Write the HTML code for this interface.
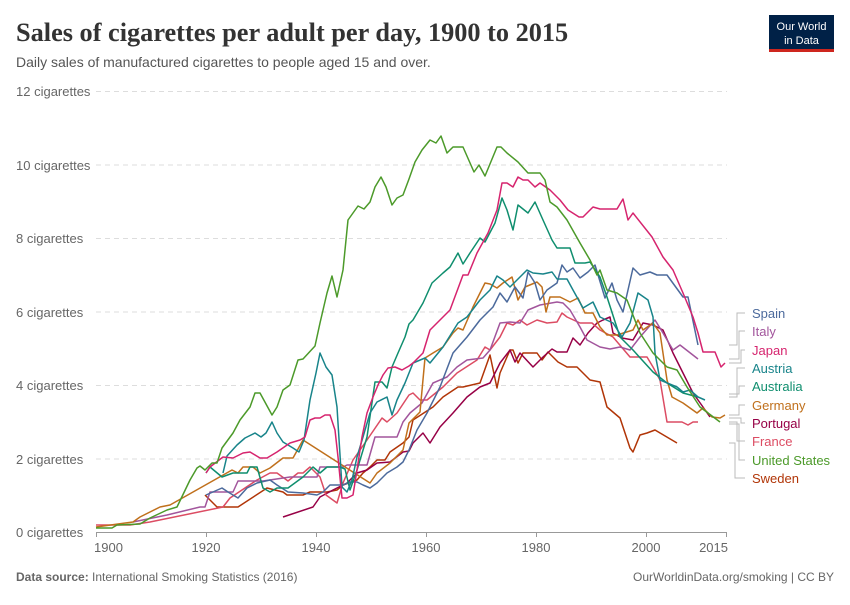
<!DOCTYPE html>
<html><head><meta charset="utf-8"><style>
body{margin:0;background:#fff;width:850px;height:600px;overflow:hidden;font-family:"Liberation Sans",sans-serif;}
</style></head><body>
<svg width="850" height="600" xmlns="http://www.w3.org/2000/svg" font-family="Liberation Sans, sans-serif">
<text x="16" y="41" font-family="Liberation Serif, serif" font-weight="bold" font-size="26.3" fill="#333">Sales of cigarettes per adult per day, 1900 to 2015</text>
<text x="16" y="67" font-size="14" fill="#555">Daily sales of manufactured cigarettes to people aged 15 and over.</text>
<rect x="769" y="15" width="65" height="36" fill="#002147"/><rect x="769" y="49" width="65" height="3" fill="#ce261e"/>
<text x="801.5" y="30" font-size="11" fill="#fff" text-anchor="middle">Our World</text>
<text x="801.5" y="44" font-size="11" fill="#fff" text-anchor="middle">in Data</text>
<g stroke="#ddd" stroke-dasharray="5,4" stroke-width="1">
<line x1="96" x2="727" y1="91.5" y2="91.5"/><line x1="96" x2="727" y1="165" y2="165"/><line x1="96" x2="727" y1="238.5" y2="238.5"/><line x1="96" x2="727" y1="312" y2="312"/><line x1="96" x2="727" y1="385.5" y2="385.5"/><line x1="96" x2="727" y1="459" y2="459"/>
</g>
<g font-size="13" fill="#666">
<text x="16" y="96">12 cigarettes</text><text x="16" y="170">10 cigarettes</text><text x="16" y="243">8 cigarettes</text><text x="16" y="317">6 cigarettes</text><text x="16" y="390">4 cigarettes</text><text x="16" y="464">2 cigarettes</text><text x="16" y="537">0 cigarettes</text>
<text x="94" y="552">1900</text><text x="206" y="552" text-anchor="middle">1920</text><text x="316" y="552" text-anchor="middle">1940</text><text x="426" y="552" text-anchor="middle">1960</text><text x="536" y="552" text-anchor="middle">1980</text><text x="646" y="552" text-anchor="middle">2000</text><text x="728" y="552" text-anchor="end">2015</text>
</g>
<g stroke="#999" stroke-width="1"><line x1="96" x2="727" y1="532.5" y2="532.5"/>
<line x1="96.5" x2="96.5" y1="532" y2="537"/><line x1="206.5" x2="206.5" y1="532" y2="537"/><line x1="316.5" x2="316.5" y1="532" y2="537"/><line x1="426.5" x2="426.5" y1="532" y2="537"/><line x1="536.5" x2="536.5" y1="532" y2="537"/><line x1="646.5" x2="646.5" y1="532" y2="537"/><line x1="726.5" x2="726.5" y1="532" y2="537"/></g>
<g fill="none" stroke-width="1.5" stroke-linejoin="round">
<polyline stroke="#B13507" points="205,495 217,507 238,507 267,488 283,492 287,495 303,495 310,492 327,492 337,490 343,485 357,480 363,473 370,467 377,460 385,460 390,452 403,443 409,437 413,420 433,407 443,397 458,387 463,387 480,383 490,355 497,388 500,373 510,350 513,350 518,363 523,353 537,353 542,360 548,352 558,362 567,367 577,367 590,380 600,382 607,407 620,418 630,448 633,452 640,435 647,433 655,430 677,443"/>
<polyline stroke="#970046" points="283,517 313,507 320,497 333,490 347,483 357,473 367,470 377,463 390,462 403,452 409,451 413,443 423,433 430,443 440,427 453,413 467,397 480,387 490,383 500,363 510,350 515,362 520,353 533,367 543,357 552,349 557,352 567,352 573,338 580,345 588,333 597,323 603,320 610,317 613,333 622,338 633,340 643,323 653,325 663,330 673,353 683,373 693,393 703,407 710,417"/>
<polyline stroke="#DC4C63" points="96,525 130,525 150,522 223,507 230,498 257,480 270,473 277,473 288,481 298,473 303,473 310,467 320,477 326,495 337,503 343,483 353,460 367,440 382,418 387,422 397,413 409,395 413,393 420,400 427,400 443,387 457,373 477,360 485,347 490,350 500,337 507,323 513,325 520,320 527,325 537,320 547,323 557,322 562,313 567,317 580,323 592,323 600,330 613,337 630,357 647,357 653,367 660,380 667,422 682,422 688,425 693,422 698,422"/>
<polyline stroke="#A2559C" points="133,522 167,515 200,507 205,507 210,492 233,492 238,481 263,481 290,477 317,477 320,467 343,467 347,465 367,465 375,437 397,437 403,422 410,413 422,403 433,383 447,377 457,367 467,360 483,358 490,350 500,323 510,322 520,323 528,310 540,305 557,302 563,303 570,310 580,327 587,340 600,347 610,349 620,347 630,350 640,337 655,320 663,333 673,350 680,345 698,359"/>
<polyline stroke="#C0701C" points="96,527 133,522 140,517 160,507 170,505 232,470 238,473 243,467 253,467 260,473 270,468 283,458 293,458 303,440 370,483 377,473 390,463 403,450 409,423 420,412 425,358 433,353 443,347 453,333 458,328 463,330 473,307 485,283 490,284 497,288 503,283 512,277 518,300 525,287 537,282 542,287 546,312 550,297 560,297 570,302 578,298 585,313 593,313 600,327 607,335 617,335 633,330 638,320 643,330 653,323 660,333 667,380 672,397 683,403 697,413 703,408 712,417 720,418 725,415"/>
<polyline stroke="#4C6A9C" points="206,495 222,488 228,492 238,498 247,488 257,483 270,480 277,485 288,492 303,493 317,495 323,492 330,485 343,485 350,482 357,482 363,485 370,488 377,483 387,473 397,467 403,462 409,450 417,430 427,413 440,387 453,353 467,337 480,320 493,307 500,293 507,302 515,287 523,298 528,272 535,283 540,300 547,290 557,283 562,265 567,272 573,268 580,278 588,272 595,265 605,298 612,283 617,300 623,312 633,268 640,275 650,272 657,275 667,275 683,297 688,297 698,345"/>
<polyline stroke="#0F8E6E" points="206,473 210,467 222,477 233,473 247,473 250,467 257,467 263,488 270,492 277,488 288,488 303,477 313,467 320,473 327,467 340,467 345,469 350,490 357,470 367,437 375,382 382,382 387,388 392,367 398,353 405,337 409,324 413,320 423,303 432,283 443,273 450,267 458,253 463,264 470,253 480,238 485,242 495,223 502,198 507,210 513,230 518,205 528,213 535,202 543,220 552,240 557,248 570,248 575,263 585,263 590,262 600,277 607,297 620,337 633,350 653,372 667,383 683,393 698,397"/>
<polyline stroke="#18848A" points="223,473 227,456 237,445 245,438 255,433 261,437 266,433 272,422 277,433 283,442 293,448 299,452 304,440 310,400 316,373 320,353 326,367 332,375 337,407 342,487 347,492 352,480 357,457 363,437 370,413 377,402 387,397 392,415 397,400 405,383 413,363 425,358 430,363 443,347 458,323 467,317 480,300 490,290 497,276 503,280 510,287 527,270 533,273 543,274 552,272 557,279 567,279 573,290 583,308 593,302 600,317 613,323 622,337 630,323 638,293 648,300 653,317 655,353 660,380 677,387 683,392 690,390 698,397 705,400"/>
<polyline stroke="#D6246E" points="206,473 210,467 223,457 233,458 243,453 250,452 260,458 267,458 277,452 290,443 300,440 305,437 310,420 315,418 320,418 325,415 330,415 335,430 338,457 342,498 347,498 353,495 357,470 362,437 367,413 373,397 378,385 383,375 388,368 395,367 402,370 409,366 413,363 423,353 430,330 437,323 450,310 463,275 468,275 477,253 488,233 497,210 502,183 507,183 513,187 518,177 523,180 528,180 535,187 540,183 550,190 560,200 568,210 579,217 583,217 593,207 600,209 617,209 623,199 628,220 633,213 652,237 663,257 673,270 683,293 693,317 698,333 703,352 715,352 721,367 725,363"/>
<polyline stroke="#4C9A2A" points="96,528 112,528 117,525 140,524 150,518 167,510 177,507 190,480 197,468 200,466 205,470 212,463 217,463 222,448 233,433 240,420 250,407 255,393 260,393 272,415 277,407 283,390 290,385 298,360 303,359 315,346 320,323 327,293 332,276 337,297 343,270 348,220 358,206 364,209 370,202 375,187 381,177 386,187 392,205 397,198 403,195 409,179 415,162 422,150 430,140 436,143 441,136 447,153 453,147 463,147 474,172 479,165 485,176 497,147 501,147 507,153 518,162 528,173 540,173 545,180 550,202 557,207 567,220 580,243 590,260 597,275 600,270 607,290 617,293 627,300 640,333 653,353 667,367 677,370 687,387 700,407 720,422"/>
</g>
<g fill="none" stroke="#bbb" stroke-width="1">
<polyline points="729,345 737,345 737,313 745,313"/>
<polyline points="729,359 739,359 739,331 745,331"/>
<polyline points="729,363 741,363 741,350 745,350"/>
<polyline points="729,397 737,397 737,368 745,368"/>
<polyline points="729,394 739,394 739,386 745,386"/>
<polyline points="729,415 739,415 739,405 745,405"/>
<polyline points="729,418 741,418 741,423 745,423"/>
<polyline points="729,422 737,422 737,441 745,441"/>
<polyline points="729,424 739,424 739,460 745,460"/>
<polyline points="729,443 735,443 735,478 745,478"/>
</g>
<g font-size="13">
<text x="752" y="318" fill="#4C6A9C">Spain</text>
<text x="752" y="336" fill="#A2559C">Italy</text>
<text x="752" y="355" fill="#D6246E">Japan</text>
<text x="752" y="373" fill="#18848A">Austria</text>
<text x="752" y="391" fill="#0F8E6E">Australia</text>
<text x="752" y="410" fill="#C0701C">Germany</text>
<text x="752" y="428" fill="#970046">Portugal</text>
<text x="752" y="446" fill="#DC4C63">France</text>
<text x="752" y="465" fill="#4C9A2A">United States</text>
<text x="752" y="483" fill="#B13507">Sweden</text>
</g>
<text x="16" y="581" font-size="12" fill="#666"><tspan font-weight="bold">Data source:</tspan> International Smoking Statistics (2016)</text>
<text x="834" y="581" font-size="12" fill="#666" text-anchor="end">OurWorldinData.org/smoking | CC BY</text>
</svg>
</body></html>
